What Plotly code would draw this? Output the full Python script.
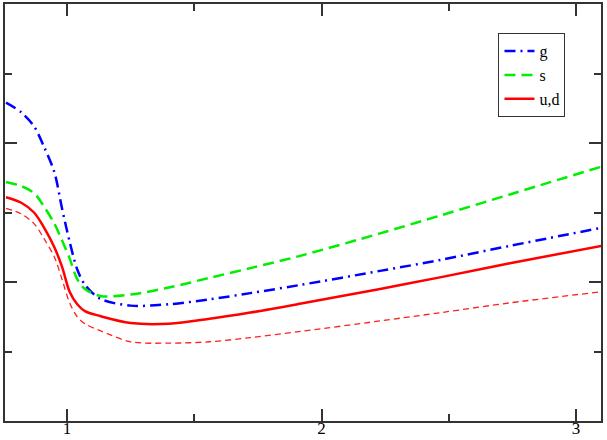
import plotly.graph_objects as go

x = [0.76, 0.82, 0.87, 0.91, 0.95, 0.98, 1.01, 1.04, 1.07, 1.13, 1.25, 1.40,
     1.56, 1.72, 1.92, 2.23, 2.47, 2.74, 3.10]
g_vals = [2.29, 2.22, 2.12, 1.97, 1.79, 1.53, 1.29, 1.09, 0.98, 0.88, 0.83, 0.84,
          0.875, 0.92, 0.98, 1.08, 1.16, 1.26, 1.39]
s_vals = [1.72, 1.69, 1.64, 1.54, 1.42, 1.30, 1.17, 1.02, 0.95, 0.90, 0.91, 0.96,
          1.03, 1.10, 1.19, 1.35, 1.48, 1.63, 1.83]
ud_vals = [1.61, 1.57, 1.50, 1.39, 1.25, 1.11, 0.93, 0.84, 0.79, 0.755, 0.705, 0.70,
           0.735, 0.78, 0.845, 0.95, 1.035, 1.135, 1.26]
ud2_vals = [1.53, 1.49, 1.42, 1.31, 1.18, 1.02, 0.85, 0.75, 0.70, 0.65, 0.57, 0.56,
            0.57, 0.60, 0.645, 0.72, 0.78, 0.85, 0.93]

X_RANGE = [0.756, 3.098]
Y_RANGE = [0, 3]
SMOOTH = 0.9

fig = go.Figure()
fig.add_trace(go.Scatter(x=x, y=ud2_vals, mode="lines", showlegend=False,
                         line=dict(color="#ff2020", width=1.3, dash="6px,4px", shape="spline", smoothing=SMOOTH)))
fig.add_trace(go.Scatter(x=x, y=g_vals, mode="lines", name="g",
                         line=dict(color="#0000ff", width=2.5, dash="11px,5px,2px,5px", shape="spline", smoothing=SMOOTH)))
fig.add_trace(go.Scatter(x=x, y=s_vals, mode="lines", name="s",
                         line=dict(color="#00ee00", width=2.5, dash="11px,6px", shape="spline", smoothing=SMOOTH)))
fig.add_trace(go.Scatter(x=x, y=ud_vals, mode="lines", name="u,d",
                         line=dict(color="#ff0000", width=2.5, shape="spline", smoothing=SMOOTH)))
# invisible trace for the mirrored tick axes
fig.add_trace(go.Scatter(x=X_RANGE, y=Y_RANGE, xaxis="x2", yaxis="y2", mode="lines",
                         line=dict(width=0), opacity=0, showlegend=False, hoverinfo="skip"))

tick_style = dict(ticks="inside", ticklen=12, tickwidth=1.5, tickcolor="#333333",
                  showgrid=False, zeroline=False, automargin=False,
                  minor=dict(ticks="inside", ticklen=7, tickwidth=1.5, tickcolor="#333333",
                             dtick=0.5, showgrid=False))

fig.update_layout(
    width=607, height=440,
    margin=dict(l=5, r=6, t=4, b=19),
    plot_bgcolor="white", paper_bgcolor="white",
    xaxis=dict(range=X_RANGE, dtick=1, tick0=0, showline=True, linecolor="#333333",
               linewidth=2, mirror=True, ticklabelstandoff=-9,
               tickfont=dict(family="Liberation Serif", size=17, color="black"), **tick_style),
    yaxis=dict(range=Y_RANGE, dtick=1, tick0=0, showticklabels=False, showline=True,
               linecolor="#333333", linewidth=2, mirror=True, **tick_style),
    xaxis2=dict(range=X_RANGE, dtick=1, tick0=0, overlaying="x", side="top",
                showticklabels=False, showline=False, **tick_style),
    yaxis2=dict(range=Y_RANGE, dtick=1, tick0=0, overlaying="y", side="right",
                showticklabels=False, showline=False, **tick_style),
    legend=dict(x=0.828, y=0.93, xanchor="left", yanchor="top",
                bordercolor="#333333", borderwidth=1, bgcolor="white",
                font=dict(family="Liberation Serif", size=16, color="black"),
                tracegroupgap=0, itemwidth=30),
)
fig.write_html("out.html")
